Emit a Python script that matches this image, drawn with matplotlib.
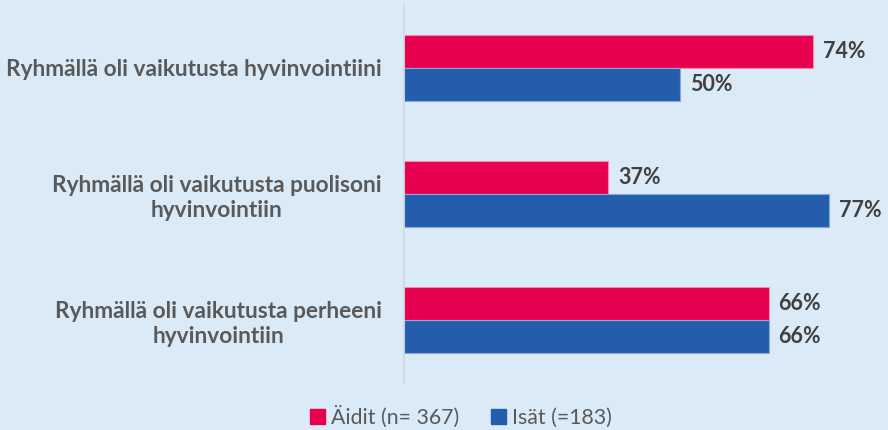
import matplotlib
matplotlib.use("Agg")
import matplotlib.pyplot as plt
from matplotlib.patches import Patch
import numpy as np

categories = [
    "Ryhmällä oli vaikutusta hyvinvointiini",
    "Ryhmällä oli vaikutusta puolisoni\nhyvinvointiin",
    "Ryhmällä oli vaikutusta perheeni\nhyvinvointiin",
]
aidit = [74, 37, 66]
isat = [50, 77, 66]
series_labels = ["Äidit (n= 367)", "Isät (=183)"]

BG = "#DAEAF7"
PINK = "#E6004F"
BLUE = "#255DAD"
GRAY = "#595959"
DARK = "#404040"

plt.rcParams["font.family"] = ["Lato", "DejaVu Sans"]

fig = plt.figure(figsize=(8.88, 4.30), dpi=100, facecolor=BG)
W, H = 888, 430
left, right = 404, 846
top, bottom = 5, 383
ax = fig.add_axes([left / W, 1 - bottom / H, (right - left) / W, (bottom - top) / H])
ax.set_facecolor(BG)

y = np.arange(len(categories))
h = 0.265
ax.barh(y - h / 2, aidit, height=h, color=PINK, edgecolor="#F28DB2", linewidth=0.8)
ax.barh(y + h / 2, isat, height=h, color=BLUE, edgecolor="#86A9DA", linewidth=0.8)

for yi, v in zip(y - h / 2, aidit):
    ax.annotate(f"{v}%", (v, yi), xytext=(7, 0), textcoords="offset points",
                va="center", ha="left", fontsize=15.5, fontweight="bold", color=DARK)
for yi, v in zip(y + h / 2, isat):
    ax.annotate(f"{v}%", (v, yi), xytext=(7, 0), textcoords="offset points",
                va="center", ha="left", fontsize=15.5, fontweight="bold", color=DARK)

ax.set_xlim(0, 80)
ax.set_ylim(len(categories) - 0.5, -0.5)
ax.set_yticks(y)
ax.set_yticklabels(categories, fontsize=16.3, fontweight="bold", color=GRAY,
                   multialignment="center", linespacing=1.25)
ax.tick_params(axis="y", length=0, pad=16)
ax.set_xticks([])
for s in ["top", "right", "bottom"]:
    ax.spines[s].set_visible(False)
ax.spines["left"].set_color("#D0D8E0")
ax.spines["left"].set_linewidth(1.2)

handles = [Patch(facecolor=PINK, edgecolor=PINK), Patch(facecolor=BLUE, edgecolor=BLUE)]
fig.legend(handles, series_labels, loc="center", bbox_to_anchor=(461 / W, 1 - 417 / H),
           ncol=2, frameon=False, fontsize=15.3, handlelength=0.7, handleheight=0.7,
           handletextpad=0.3, columnspacing=1.5, labelcolor=GRAY)

fig.savefig("out.png", dpi=100, facecolor=BG)
